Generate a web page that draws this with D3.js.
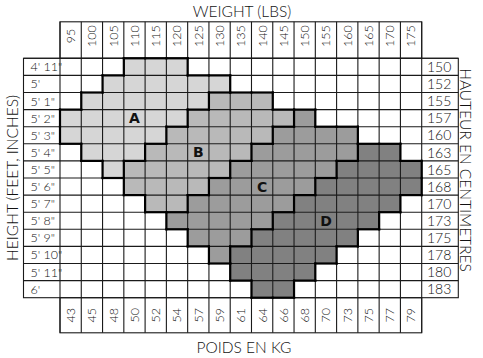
<!DOCTYPE html>
<html><head><meta charset="utf-8">
<script src="https://cdn.jsdelivr.net/npm/d3@7"></script>
<style>body{margin:0;background:#fff} svg{display:block}</style>
</head><body><svg id="c" width="483" height="358"></svg>
<script>
const weightsLbs = [95,100,105,110,115,120,125,130,135,140,145,150,155,160,165,170,175];
const weightsKg = [43,45,48,50,52,54,57,59,61,64,66,68,70,73,75,77,79];
const heightsFtIn = ["4' 11\"", "5'", "5' 1\"", "5' 2\"", "5' 3\"", "5' 4\"", "5' 5\"", "5' 6\"", "5' 7\"", "5' 8\"", "5' 9\"", "5' 10\"", "5' 11\"", "6'"];
const heightsCm = [150,152,155,157,160,163,165,168,170,173,175,178,180,183];
// size letter per cell, one string per height row, one char per weight column
const sizeRows = [
  "...AAA...........",
  "..AAAAAA.........",
  ".AAAAAABBB.......",
  "AAAAAABBBBBC.....",
  "AAAAABBBBBCCCC...",
  ".AAABBBBBCCCCCDD.",
  "..ABBBBBCCCCCDDDD",
  "...BBBBCCCCCDDDDD",
  "....BBCCCCCDDDDD.",
  ".....CCCCCDDDDD..",
  "......CCCDDDDD...",
  ".......CDDDDD....",
  "........DDDD.....",
  ".........DD......"
];
const sizes = ["A","B","C","D"];
const sizeLabelWeight = [110,125,140,155];
const sizeLabelHeight = ["5' 2\"", "5' 4\"", "5' 6\"", "5' 8\""];

const svg = d3.select("#c");
const FONT = "Lato, 'Open Sans', sans-serif";
const gx0 = 60, gx1 = 421.7, gy0 = 58.3, gy1 = 297.7;
const x = d3.scaleBand().domain(weightsLbs).range([gx0, gx1]);
const y = d3.scaleBand().domain(heightsFtIn).range([gy0, gy1]);
const color = d3.scaleOrdinal().domain(sizes).range(["#d6d6d6","#b9b9b9","#9c9c9c","#818181"]);
const leftX0 = 23.5, rightX1 = 458.3, topY0 = 21.8, botY1 = 332.8;

// cells
const cells = [];
sizeRows.forEach((row, r) => row.split("").forEach((ch, c) => {
  cells.push({h: heightsFtIn[r], w: weightsLbs[c], s: ch, r, c});
}));
svg.append("g").selectAll("rect").data(cells.filter(d => d.s !== ".")).join("rect")
  .attr("x", d => x(d.w)).attr("y", d => y(d.h))
  .attr("width", x.bandwidth()).attr("height", y.bandwidth())
  .attr("fill", d => color(d.s));

const thin = svg.append("g").attr("stroke", "#1a1a1a").attr("stroke-width", 1.1).attr("fill", "none");
// header boxes
thin.append("rect").attr("x", gx0).attr("y", topY0).attr("width", gx1 - gx0).attr("height", gy0 - topY0);
thin.append("rect").attr("x", gx0).attr("y", gy1).attr("width", gx1 - gx0).attr("height", botY1 - gy1);
thin.append("rect").attr("x", leftX0).attr("y", gy0).attr("width", rightX1 - leftX0).attr("height", gy1 - gy0);
// vertical lines
weightsLbs.forEach(w => {
  thin.append("line").attr("x1", x(w)).attr("x2", x(w)).attr("y1", topY0).attr("y2", botY1);
});
thin.append("line").attr("x1", gx1).attr("x2", gx1).attr("y1", topY0).attr("y2", botY1);
// horizontal lines
heightsFtIn.forEach(h => {
  thin.append("line").attr("x1", leftX0).attr("x2", rightX1).attr("y1", y(h)).attr("y2", y(h));
});

// thick region borders
const thick = svg.append("g").attr("stroke", "#000").attr("stroke-width", 2.2).attr("stroke-linecap", "square");
const at = (r, c) => (r < 0 || r >= sizeRows.length || c < 0 || c >= weightsLbs.length) ? "." : sizeRows[r][c];
const bw = x.bandwidth(), bh = y.bandwidth();
for (let r = 0; r < sizeRows.length; r++) {
  for (let c = -1; c < weightsLbs.length; c++) {
    const a = at(r, c), b = at(r, c + 1);
    if (a !== b) {
      const xx = c < 0 ? gx0 : x(weightsLbs[c]) + bw;
      thick.append("line").attr("x1", xx).attr("x2", xx).attr("y1", y(heightsFtIn[r])).attr("y2", y(heightsFtIn[r]) + bh);
    }
  }
}
for (let r = -1; r < sizeRows.length; r++) {
  for (let c = 0; c < weightsLbs.length; c++) {
    const a = at(r, c), b = at(r + 1, c);
    if (a !== b) {
      const yy = r < 0 ? gy0 : y(heightsFtIn[r]) + bh;
      thick.append("line").attr("y1", yy).attr("y2", yy).attr("x1", x(weightsLbs[c])).attr("x2", x(weightsLbs[c]) + bw);
    }
  }
}

// text
const txt = svg.append("g").attr("font-family", FONT).attr("font-weight", 300).attr("fill", "#111");
weightsLbs.forEach(w => {
  txt.append("text").attr("transform", `translate(${x(w) + bw/2},36) rotate(-90)`)
    .attr("text-anchor", "middle").attr("dy", "0.35em").attr("font-size", 12.5).text(w);
});
weightsKg.forEach((k, i) => {
  txt.append("text").attr("transform", `translate(${x(weightsLbs[i]) + bw/2},${(gy1 + botY1)/2}) rotate(-90)`)
    .attr("text-anchor", "middle").attr("dy", "0.35em").attr("font-size", 12.5).text(k);
});
heightsFtIn.forEach(h => {
  txt.append("text").attr("x", 30.5).attr("y", y(h) + bh/2).attr("dy", "0.36em")
    .attr("font-size", 12.5).text(h);
});
heightsCm.forEach((cm, i) => {
  txt.append("text").attr("x", 427).attr("y", y(heightsFtIn[i]) + bh/2).attr("dy", "0.37em")
    .attr("font-size", 14).text(cm);
});
txt.append("text").attr("x", 242).attr("y", 17).attr("text-anchor", "middle").attr("font-size", 15.5).text("WEIGHT (LBS)");
txt.append("text").attr("x", 244).attr("y", 353).attr("text-anchor", "middle").attr("font-size", 15.5).text("POIDS EN KG");
txt.append("text").attr("transform", "translate(18.3,178) rotate(-90)").attr("text-anchor", "middle").attr("font-size", 15.5).text("HEIGHT (FEET, INCHES)");
txt.append("text").attr("transform", "translate(460,170) rotate(90)").attr("text-anchor", "middle").attr("font-size", 15.5).text("HAUTEUR EN CENTIMETRES");

// size letters
svg.append("g").selectAll("text").data(sizes).join("text")
  .attr("x", (d, i) => x(sizeLabelWeight[i]) + bw/2)
  .attr("y", (d, i) => y(sizeLabelHeight[i]) + bh/2)
  .attr("dy", "0.36em").attr("text-anchor", "middle")
  .attr("font-family", "'DejaVu Sans', sans-serif").attr("font-weight", "bold").attr("font-size", 14)
  .attr("fill", "#111").text(d => d);
</script></body></html>
